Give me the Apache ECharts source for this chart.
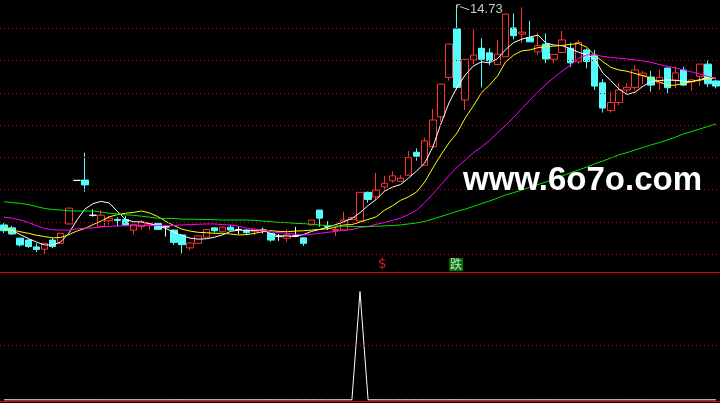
<!DOCTYPE html>
<html><head><meta charset="utf-8">
<script src="https://cdn.jsdelivr.net/npm/echarts@6/dist/echarts.min.js"></script>
<style>html,body{margin:0;padding:0;background:#000;}#c{width:720px;height:403px;}</style>
</head><body><div id="c"></div>
<script>
// ---- data ----
const openP  = [7.91,7.82,7.50,7.44,7.23,7.16,7.44,7.34,7.94,9.29, 9.30,8.21,7.86,8.04,8.08,8.08,7.75,7.86,7.91,7.96, 7.85,7.75,7.60,7.20,7.34,7.53,7.82,7.70,7.84,7.77, 7.75,7.71,7.75,7.65,7.55,7.50,7.57,7.51,7.91,8.37, 7.89,7.74,7.75,8.08,8.03,8.92,8.78,9.09,9.28,9.26, 9.45,10.16,9.76,10.33,11.26,12.48,13.98,11.78,13.02,13.38, 13.24,12.88,13.12,14.01,13.82,13.71,13.27,13.51,13.04,13.25, 13.38,12.96,13.33,13.17,12.31,11.45,11.70,12.09,12.17,12.54, 12.49,12.31,12.77,12.39,12.71,12.34,12.51,12.89,12.37];
const highP  = [7.97,7.88,7.52,7.47,7.34,7.35,7.50,7.65,8.43,9.29, 10.15,8.39,8.37,8.19,8.15,8.19,7.93,8.06,7.96,7.97, 7.88,7.77,7.61,7.36,7.58,7.78,7.83,7.85,7.91,7.86, 7.77,7.80,7.82,7.66,7.63,7.77,7.85,7.52,8.06,8.37, 8.03,7.85,8.32,8.16,8.92,8.94,9.52,9.43,9.57,9.45, 10.20,10.28,10.61,11.50,12.28,13.51,14.73,13.04,13.97,13.69, 13.38,13.64,14.44,14.46,14.65,14.23,13.87,13.84,13.19,13.92, 13.55,13.64,13.37,13.33,12.42,12.04,12.31,12.30,12.85,12.68, 12.68,12.73,12.77,12.81,12.81,12.43,12.89,13.00,12.40];
const lowP   = [7.66,7.60,7.24,7.20,7.07,7.00,7.19,7.34,7.94,9.29, 8.94,8.17,7.86,7.91,7.86,7.91,7.62,7.77,7.75,7.76, 7.55,7.29,7.03,7.13,7.34,7.52,7.67,7.69,7.74,7.63, 7.60,7.60,7.65,7.39,7.42,7.39,7.53,7.26,7.91,7.85, 7.75,7.57,7.75,8.06,8.03,8.60,8.68,8.97,9.22,9.26, 9.45,9.90,9.76,10.33,11.11,12.38,12.09,11.47,12.89,12.17, 12.86,12.88,13.12,13.66,13.54,13.58,13.17,12.92,12.92,13.24, 12.80,12.89,12.76,12.09,11.39,11.39,11.62,11.99,12.09,12.27, 12.04,12.09,11.99,12.15,12.21,12.07,12.22,12.18,12.14];
const closeP = [7.73,7.63,7.29,7.24,7.15,7.34,7.24,7.65,8.43,9.29, 9.15,8.21,8.21,8.12,8.05,7.91,7.93,8.01,7.96,7.77, 7.85,7.37,7.30,7.35,7.57,7.77,7.73,7.84,7.75,7.77, 7.67,7.77,7.75,7.44,7.55,7.60,7.57,7.34,8.06,8.12, 7.86,7.77,8.06,8.14,8.92,8.70,8.99,9.20,9.43,9.36, 10.00,10.04,10.51,11.16,12.27,13.51,12.17,13.04,13.17,13.04, 12.99,13.20,14.44,13.77,13.88,13.58,13.46,13.05,13.19,13.64, 12.93,13.56,12.97,12.21,11.53,11.70,12.09,12.17,12.71,12.61, 12.24,12.48,12.16,12.62,12.24,12.40,12.89,12.28,12.21];

const ma5  = [7.78,7.74,7.61,7.49,7.38,7.29,7.29,7.38,7.65,8.06, 8.40,8.57,8.64,8.59,8.33,8.08,8.01,8.00,7.95,7.88, 7.80,7.69,7.58,7.50,7.47,7.48,7.53,7.60,7.71,7.75, 7.74,7.74,7.74,7.64,7.57,7.57,7.55,7.61,7.71,7.77, 7.84,7.92,8.01,8.11,8.29,8.51,8.70,8.95,9.08,9.16, 9.36,9.58,9.83,10.32,11.04,11.69,12.18,12.55,12.83,12.96, 12.93,13.06,13.34,13.56,13.66,13.73,13.79,13.54,13.48,13.46, 13.37,13.26,13.18,13.06,12.62,12.38,12.12,11.95,12.02,12.21, 12.35,12.38,12.40,12.39,12.36,12.35,12.41,12.48,12.45];
const ma10 = [7.78,7.75,7.70,7.65,7.59,7.55,7.51,7.52,7.61,7.72, 7.80,7.92,8.03,8.16,8.23,8.27,8.30,8.34,8.28,8.17, 8.02,7.89,7.78,7.72,7.68,7.67,7.65,7.65,7.63,7.60, 7.61,7.65,7.70,7.73,7.71,7.70,7.72,7.73,7.75,7.77, 7.79,7.84,7.91,7.92,8.00,8.08,8.16,8.36,8.50,8.67, 8.78,8.93,9.24,9.67,10.08,10.45,10.76,11.22,11.59,12.00, 12.24,12.52,12.96,13.17,13.30,13.33,13.40,13.43,13.45,13.47, 13.50,13.53,13.42,13.17,12.97,12.79,12.71,12.67,12.60,12.53, 12.45,12.34,12.23,12.24,12.29,12.35,12.39,12.44,12.45];
const ma20 = [8.15,8.12,8.06,7.99,7.89,7.80,7.76,7.75,7.75,7.79, 7.81,7.82,7.85,7.86,7.88,7.88,7.89,7.89,7.89,7.89, 7.89,7.89,7.91,7.92,7.93,7.94,7.94,7.92,7.91,7.87, 7.81,7.77,7.74,7.70,7.67,7.65,7.62,7.60,7.62,7.65, 7.68,7.71,7.75,7.77,7.83,7.86,7.93,7.98,8.05,8.12, 8.23,8.37,8.60,8.87,9.15,9.44,9.70,9.92,10.14,10.32, 10.52,10.76,10.99,11.24,11.51,11.78,12.03,12.27,12.48,12.68, 12.86,13.07,13.17,13.18,13.13,13.10,13.07,13.05,13.02,12.99, 12.94,12.88,12.82,12.77,12.71,12.65,12.58,12.51,12.43];
const ma60 = [8.63,8.60,8.58,8.54,8.48,8.42,8.39,8.37,8.35,8.34, 8.34,8.34,8.31,8.27,8.25,8.22,8.21,8.18,8.15,8.12, 8.11,8.11,8.09,8.09,8.08,8.08,8.07,8.06,8.06,8.06, 8.06,8.05,8.03,8.01,7.99,7.98,7.96,7.95,7.93,7.91, 7.89,7.88,7.87,7.86,7.86,7.86,7.87,7.88,7.89,7.91, 7.94,7.97,8.02,8.09,8.17,8.25,8.33,8.40,8.48,8.57, 8.65,8.74,8.84,8.91,8.99,9.08,9.16,9.24,9.33,9.43, 9.52,9.61,9.70,9.80,9.89,9.98,10.08,10.15,10.23,10.31, 10.39,10.46,10.54,10.63,10.73,10.80,10.88,10.96,11.04];

// lower indicator panel
const indicator = [0,0,0,0,0,0,0,0,0,0, 0,0,0,0,0,0,0,0,0,0, 0,0,0,0,0,0,0,0,0,0, 0,0,0,0,0,0,0,0,0,0, 0,0,0,0,1,0,0,0,0,0, 0,0,0,0,0,0,0,0,0,0, 0,0,0,0,0,0,0,0,0,0, 0,0,0,0,0,0,0,0,0,0, 0,0,0,0,0,0,0,0,0];

const priceLevels = [7,8,9,10,11,12,13,14];
const indicatorLevels = [0.5];
const buySignals = [[47, 6.68]];   // "$"
const fallSignals = [[56, 6.68]];  // "跌"
const watermarkText = 'www.6o7o.com';

// ---- build ----
const categories = openP.map((_, i) => String(i));
const kdata = openP.map((o, i) => [o, closeP[i], lowP[i], highP[i]]);

const chart = echarts.init(document.getElementById('c'), null, {renderer: 'canvas'});
const dotted = {color: '#c00000', type: [1, 3], width: 1};
const hiddenY = {show: false, axisLine: {show: false}, splitLine: {show: false}, axisLabel: {show: false}, axisTick: {show: false}};
const xBase = {type: 'category', data: categories, boundaryGap: true,
  axisLine: {show: true, onZero: false, lineStyle: {color: '#e00000', width: 1}},
  axisTick: {show: false}, axisLabel: {show: false}, splitLine: {show: false}};
const maLine = (name, data, color) => ({
  name, type: 'line', data, xAxisIndex: 0, yAxisIndex: 0, symbol: 'none', z: 4,
  lineStyle: {color, width: 1}, silent: true
});
const clear = 'rgba(0,0,0,0)';

chart.setOption({
  backgroundColor: '#000',
  animation: false,
  grid: [
    {left: -1.07, top: 0, width: 723.8, height: 272},
    {left: -1.07, top: 272, width: 723.8, height: 129.5}
  ],
  xAxis: [Object.assign({gridIndex: 0}, xBase), Object.assign({gridIndex: 1}, xBase)],
  yAxis: [
    Object.assign({type: 'value', gridIndex: 0, min: 6.4523, max: 14.876, scale: true}, hiddenY),
    Object.assign({type: 'value', gridIndex: 1, min: -0.0157, max: 1.1814}, hiddenY)
  ],
  series: [
    {type: 'line', data: [], xAxisIndex: 0, yAxisIndex: 0, z: 1, silent: true,
      markLine: {silent: true, symbol: ['none', 'none'], label: {show: false}, lineStyle: dotted,
        data: priceLevels.map(v => ({yAxis: v}))}},
    {type: 'candlestick', data: kdata, xAxisIndex: 0, yAxisIndex: 0, barWidth: 7, z: 2,
      itemStyle: {color: '#000000', color0: '#54fcfc', borderColor: '#ff3232', borderColor0: '#54fcfc',
        borderColorDoji: '#ffffff', borderWidth: 1}},
    maLine('MA5', ma5, '#ffffff'),
    maLine('MA10', ma10, '#ffff00'),
    maLine('MA20', ma20, '#ff00ff'),
    maLine('MA60', ma60, '#00e600'),
    {type: 'scatter', data: buySignals, xAxisIndex: 0, yAxisIndex: 0, symbol: 'rect', symbolSize: 2, z: 5,
      itemStyle: {color: clear}, silent: true,
      label: {show: true, position: 'inside', formatter: '$', color: '#ff2020', fontSize: 14,
        fontFamily: 'DejaVu Sans', offset: [-2, 0]}},
    {type: 'scatter', data: fallSignals, xAxisIndex: 0, yAxisIndex: 0, symbol: 'rect', symbolSize: 2, z: 5,
      itemStyle: {color: clear}, silent: true,
      label: {show: true, position: 'inside', formatter: '跌', color: '#ffffff', fontSize: 12,
        lineHeight: 13, fontFamily: 'Noto Sans CJK SC', backgroundColor: '#009000', padding: [0, 1, 0, 1], offset: [-1, 0]}},
    {type: 'line', data: indicator, xAxisIndex: 1, yAxisIndex: 1, symbol: 'none', z: 3,
      lineStyle: {color: '#ffffff', width: 1}, silent: true,
      markLine: {silent: true, symbol: ['none', 'none'], label: {show: false}, lineStyle: dotted,
        data: indicatorLevels.map(v => ({yAxis: v}))}}
  ]
});

// max-high annotation, positioned through the chart's own scales
let hiIdx = 0;
highP.forEach((h, i) => { if (h > highP[hiIdx]) hiIdx = i; });
const hp = chart.convertToPixel({xAxisIndex: 0, yAxisIndex: 0}, [hiIdx, highP[hiIdx]]);
chart.setOption({
  graphic: [
    {type: 'polyline', silent: true, z: 10, shape: {points: [[hp[0], hp[1] + 3], [hp[0], hp[1]], [hp[0] + 3, hp[1]]]},
      style: {stroke: '#c8c8c8', lineWidth: 1, fill: null}},
    {type: 'line', silent: true, z: 10, shape: {x1: hp[0] + 3, y1: hp[1] + 2, x2: hp[0] + 12, y2: hp[1] + 5},
      style: {stroke: '#c8c8c8', lineWidth: 1}},
    {type: 'text', silent: true, z: 10, x: hp[0] + 13, y: hp[1] + 5,
      style: {text: highP[hiIdx].toFixed(2), fill: '#c8c8c8', font: '13px "Liberation Sans"',
        textAlign: 'left', textVerticalAlign: 'middle'}},
    {type: 'text', silent: true, z: 20, x: 463, y: 180.5,
      style: {text: watermarkText, fill: '#ffffff', font: 'bold 33px "Liberation Sans"',
        textAlign: 'left', textVerticalAlign: 'middle',
        shadowColor: 'rgba(150,150,150,0.9)', shadowOffsetX: -1, shadowOffsetY: 1, shadowBlur: 0}}
  ]
});
</script>
</body></html>
